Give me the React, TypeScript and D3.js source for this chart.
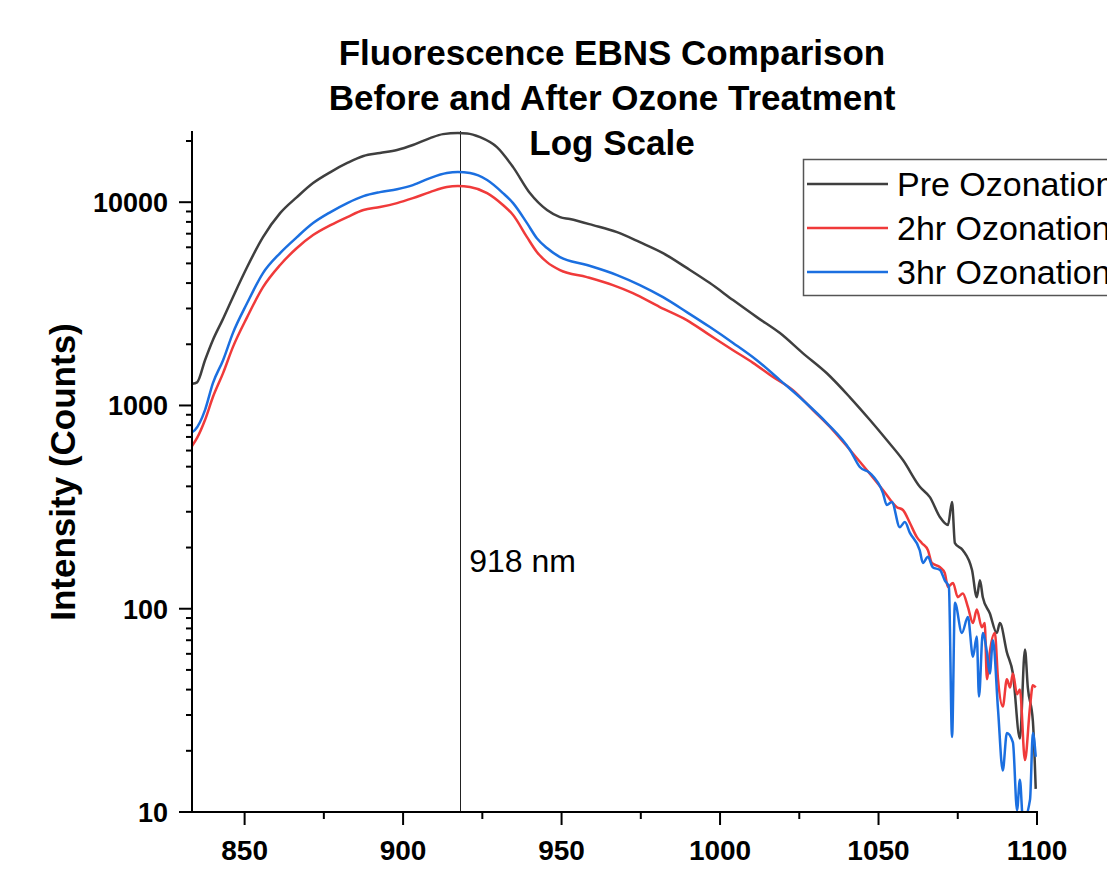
import React from 'react';
import * as d3 from 'd3';

const titleLines = ['Fluorescence EBNS Comparison', 'Before and After Ozone Treatment', 'Log Scale'];
const seriesNames = ['Pre Ozonation', '2hr Ozonation', '3hr Ozonation'];
const seriesColors = ['#3f3f3f', '#f03a3a', '#1b6fe0'];
const xMajorTicks = [850, 900, 950, 1000, 1050, 1100];
const xMinorTicks = [875, 925, 975, 1025, 1075];
const yMajorTicks = [10, 100, 1000, 10000];
const markerNm = 918;

const preOzonation: [number, number][] = [
  [833.5, 1280], [835, 1300], [837.5, 1670], [840, 2100], [843, 2630], [846.3, 3410], [850.8, 4800],
  [855.8, 6730], [861.2, 8830], [866.5, 10590], [871.6, 12420], [877.1, 14070], [882.4, 15590],
  [887.5, 16870], [892.7, 17460], [898.1, 18070], [903.1, 19110], [908.5, 20670], [912.6, 21620],
  [917.3, 21880], [920.2, 21800], [924.3, 20890], [929.6, 18660], [934.7, 14880], [940, 11090],
  [945.4, 9150], [949.5, 8450], [952.6, 8260], [959.9, 7710], [967.5, 7120], [974.7, 6360],
  [982, 5620], [989.5, 4750], [996.8, 4000], [1004.1, 3300], [1011.6, 2720], [1018.9, 2270],
  [1026.1, 1810], [1033.7, 1440], [1040.9, 1100], [1047.3, 848], [1052.6, 676], [1057.7, 539],
  [1063.1, 397], [1066.2, 354], [1069.4, 282], [1071.9, 258], [1073.2, 335], [1074.1, 210],
  [1076.6, 194], [1079.5, 155], [1081, 114], [1082, 138], [1082.9, 114], [1085.1, 95], [1087.3, 76],
  [1088.3, 85], [1090.5, 61], [1092.4, 48], [1094.6, 23], [1096.2, 63], [1097.1, 41], [1098.7, 28],
  [1099.6, 13],
];

const twoHrOzonation: [number, number][] = [
  [833.4, 631], [835, 692], [837.5, 848], [840, 1100], [843.2, 1442], [846.3, 1936], [850.8, 2720],
  [855.8, 3820], [861.2, 4910], [866.5, 5950], [871.6, 6890], [877.1, 7710], [882.4, 8450],
  [887.5, 9150], [892.7, 9460], [898.1, 9900], [903.1, 10470], [908.5, 11210], [913.8, 11870],
  [917.3, 12000], [921.1, 11870], [926.5, 11090], [931.5, 9690], [934.7, 8650], [939.1, 6730],
  [942.2, 5690], [945.4, 5070], [949.5, 4630], [958, 4280], [966.2, 3910], [972.5, 3570],
  [981, 3050], [989.5, 2630], [995.8, 2270], [1004.1, 1870], [1010.4, 1620], [1016.7, 1380],
  [1023, 1190], [1029.3, 949], [1035.6, 757], [1041, 604], [1046.3, 481], [1051.4, 384],
  [1055.8, 316], [1057.7, 306], [1059.9, 264], [1062.1, 225], [1063.7, 210], [1065.6, 194],
  [1066.8, 168], [1069.4, 160], [1070.9, 150], [1071.9, 128], [1073.5, 134], [1075, 114],
  [1076.6, 119], [1078.2, 102], [1079.8, 85], [1081, 99], [1082.6, 81], [1083.5, 85], [1084.2, 45],
  [1085.1, 61], [1086.7, 76], [1087.7, 45], [1089.2, 33], [1090.5, 45], [1091.5, 41], [1092.4, 48],
  [1093.7, 38], [1094.6, 40], [1096.2, 18], [1097.8, 33], [1098.7, 42], [1099.6, 41],
];

const threeHrOzonation: [number, number][] = [
  [833.4, 740], [834.3, 757], [837.5, 949], [840, 1288], [843.2, 1670], [846.3, 2270], [850.8, 3190],
  [855.8, 4480], [861.2, 5620], [866.5, 6730], [871.6, 7890], [877.1, 8940], [882.4, 9900],
  [887.5, 10710], [892.7, 11210], [898.1, 11590], [903.1, 12140], [908.5, 13140], [913.8, 13910],
  [917.3, 14070], [921.1, 13910], [926.5, 12850], [931.5, 11090], [934.7, 9900], [939.1, 7890],
  [942.2, 6650], [945.4, 5950], [949.5, 5370], [958, 4910], [967.5, 4380], [974.7, 3910],
  [982, 3410], [989.5, 2880], [996.8, 2430], [1004.1, 2030], [1011.6, 1670], [1018.9, 1333],
  [1026.1, 1064], [1033.7, 819], [1041, 604], [1044.1, 498], [1047.3, 465], [1051.4, 371],
  [1052.6, 324], [1054.2, 335], [1056.7, 252], [1058.3, 267], [1059.9, 236], [1063, 194],
  [1064, 168], [1065.6, 180], [1067.1, 160], [1069.4, 155], [1070.9, 138], [1072.2, 128],
  [1073.2, 23.4], [1074.1, 107], [1076.3, 76], [1078.2, 91], [1079.8, 58], [1081, 73], [1081.7, 37],
  [1082.9, 76], [1084.2, 61], [1085.1, 48], [1086.1, 70], [1087.7, 32], [1089.2, 16], [1090.5, 24.5],
  [1092.4, 22], [1093.7, 10.2], [1094.6, 14.4], [1095.6, 9], [1097.8, 11.5], [1098.7, 24.5],
  [1099.6, 18.7],
];

const allSeries = [preOzonation, twoHrOzonation, threeHrOzonation];

const FONT = '"Liberation Sans", Arial, sans-serif';

export default function App() {
  const left = 192, right = 1037, top = 131, bottom = 812;
  const x = d3.scaleLinear().domain([833.4, 1100]).range([left, right]);
  const y = d3.scaleLog().domain([10, 22400]).range([bottom, top]);
  const yMinorTicks: number[] = [];
  yMajorTicks.forEach((d) => {
    for (let k = 2; k <= 9; k++) {
      const v = d * k;
      if (v <= 22400) yMinorTicks.push(v);
    }
  });
  const line = d3
    .line<[number, number]>()
    .x((d) => x(d[0]))
    .y((d) => y(Math.max(d[1], 1)))
    .curve(d3.curveMonotoneX);

  const legendRows = [184, 228, 272];
  const mx = Math.round(x(markerNm)) + 0.5;

  return (
    <svg width={1107} height={876} style={{ position: 'absolute', left: 0, top: 0, background: '#fff' }}>
      <defs>
        <clipPath id="plotClip">
          <rect x={left} y={top - 5} width={right - left + 3} height={bottom - top + 5} />
        </clipPath>
      </defs>
      <rect x={0} y={0} width={1107} height={876} fill="#fff" />

      {titleLines.map((t, i) => (
        <text key={t} x={612} y={65 + i * 45} textAnchor="middle" fontFamily={FONT} fontWeight="bold" fontSize={35} fill="#000">
          {t}
        </text>
      ))}

      <line x1={mx} x2={mx} y1={top} y2={bottom} stroke="#222" strokeWidth={1} />
      <text x={x(markerNm) + 9} y={572} fontFamily={FONT} fontSize={32} fill="#000">
        {markerNm} nm
      </text>

      <g clipPath="url(#plotClip)">
        {allSeries.map((s, i) => (
          <path key={i} d={line(s) || ''} fill="none" stroke={seriesColors[i]} strokeWidth={2.5} strokeLinejoin="round" />
        ))}
      </g>

      <line x1={left} x2={left} y1={top} y2={bottom + 1} stroke="#000" strokeWidth={2} />
      <line x1={left - 1} x2={right + 1} y1={bottom} y2={bottom} stroke="#000" strokeWidth={2} />
      {yMajorTicks.map((t) => (
        <g key={'ym' + t}>
          <line x1={left - 13} x2={left} y1={y(t)} y2={y(t)} stroke="#000" strokeWidth={2} />
          <text x={168} y={y(t) + 10} textAnchor="end" fontFamily={FONT} fontWeight="bold" fontSize={27} fill="#000">
            {t}
          </text>
        </g>
      ))}
      {yMinorTicks.map((t) => (
        <line key={'yn' + t} x1={left - 6} x2={left} y1={y(t)} y2={y(t)} stroke="#000" strokeWidth={2} />
      ))}
      {xMajorTicks.map((t) => (
        <g key={'xm' + t}>
          <line x1={x(t)} x2={x(t)} y1={bottom} y2={bottom + 13} stroke="#000" strokeWidth={2} />
          <text x={x(t)} y={860} textAnchor="middle" fontFamily={FONT} fontWeight="bold" fontSize={28} fill="#000">
            {t}
          </text>
        </g>
      ))}
      {xMinorTicks.map((t) => (
        <line key={'xn' + t} x1={x(t)} x2={x(t)} y1={bottom} y2={bottom + 7} stroke="#000" strokeWidth={2} />
      ))}

      <text
        transform={`translate(75, 472) rotate(-90)`}
        textAnchor="middle"
        fontFamily={FONT}
        fontWeight="bold"
        fontSize={35}
        fill="#000"
      >
        Intensity (Counts)
      </text>

      <rect x={803.5} y={159.5} width={400} height={136} fill="#fff" stroke="#555" strokeWidth={1.5} />
      {seriesNames.map((n, i) => (
        <g key={n}>
          <line x1={807} x2={888} y1={legendRows[i]} y2={legendRows[i]} stroke={seriesColors[i]} strokeWidth={2.5} />
          <text x={897} y={legendRows[i] + 12} fontFamily={FONT} fontSize={34} fill="#000">
            {n}
          </text>
        </g>
      ))}
    </svg>
  );
}
